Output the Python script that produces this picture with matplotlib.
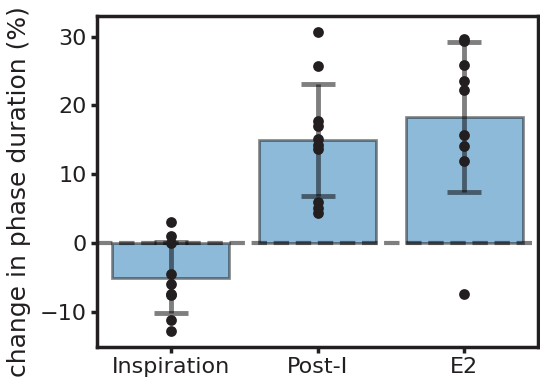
import numpy as np
from matplotlib import pyplot as plt

phases = ["Inspiration", "Post-I", "E2"]

inspiration = [3.1, 1.1, 0.0, -4.5, -5.9, -7.3, -7.5, -11.1, -12.7]
post_i = [30.7, 25.7, 17.8, 17.0, 15.1, 14.3, 13.7, 6.0, 5.2, 4.4]
e2 = [29.7, 29.3, 25.8, 23.6, 22.3, 15.7, 14.1, 12.0, -7.3]

groups = [inspiration, post_i, e2]

means = [np.mean(g) for g in groups]
sds = [np.std(g) for g in groups]

plt.rcParams["font.family"] = "DejaVu Sans"

fig = plt.figure(figsize=(5.4, 3.77), dpi=100)
ax = fig.add_axes([0.18, 0.08, 0.816, 0.878])

x = np.arange(len(phases))
ax.bar(x, means, width=0.8, color=(0.122, 0.467, 0.706, 0.5),
       edgecolor=(0, 0, 0, 0.45), linewidth=2, zorder=1)
ax.axhline(0, color="k", alpha=0.5, linestyle="--", linewidth=3, zorder=2)
ax.errorbar(x, means, yerr=sds, fmt="none", ecolor="k", alpha=0.5,
            elinewidth=3.5, capsize=12, capthick=3.5, zorder=3)
for i, g in enumerate(groups):
    ax.scatter([i] * len(g), g, s=60, color="#231f20", zorder=4, linewidths=0)

ax.set_xlim(-0.5, 2.5)
ax.set_ylim(-15, 33)
ax.set_xticks(x)
ax.set_xticklabels(phases)
ax.set_yticks([-10, 0, 10, 20, 30])
ax.set_ylabel("change in phase duration (%)", fontsize=18, color="#231f20")
ax.yaxis.set_label_coords(-0.15, 0.47)
ax.tick_params(labelsize=16, width=2.5, length=4, colors="#231f20")
for s in ax.spines.values():
    s.set_linewidth(2.5)
    s.set_color("#231f20")

plt.savefig("out.png")
plt.close()
